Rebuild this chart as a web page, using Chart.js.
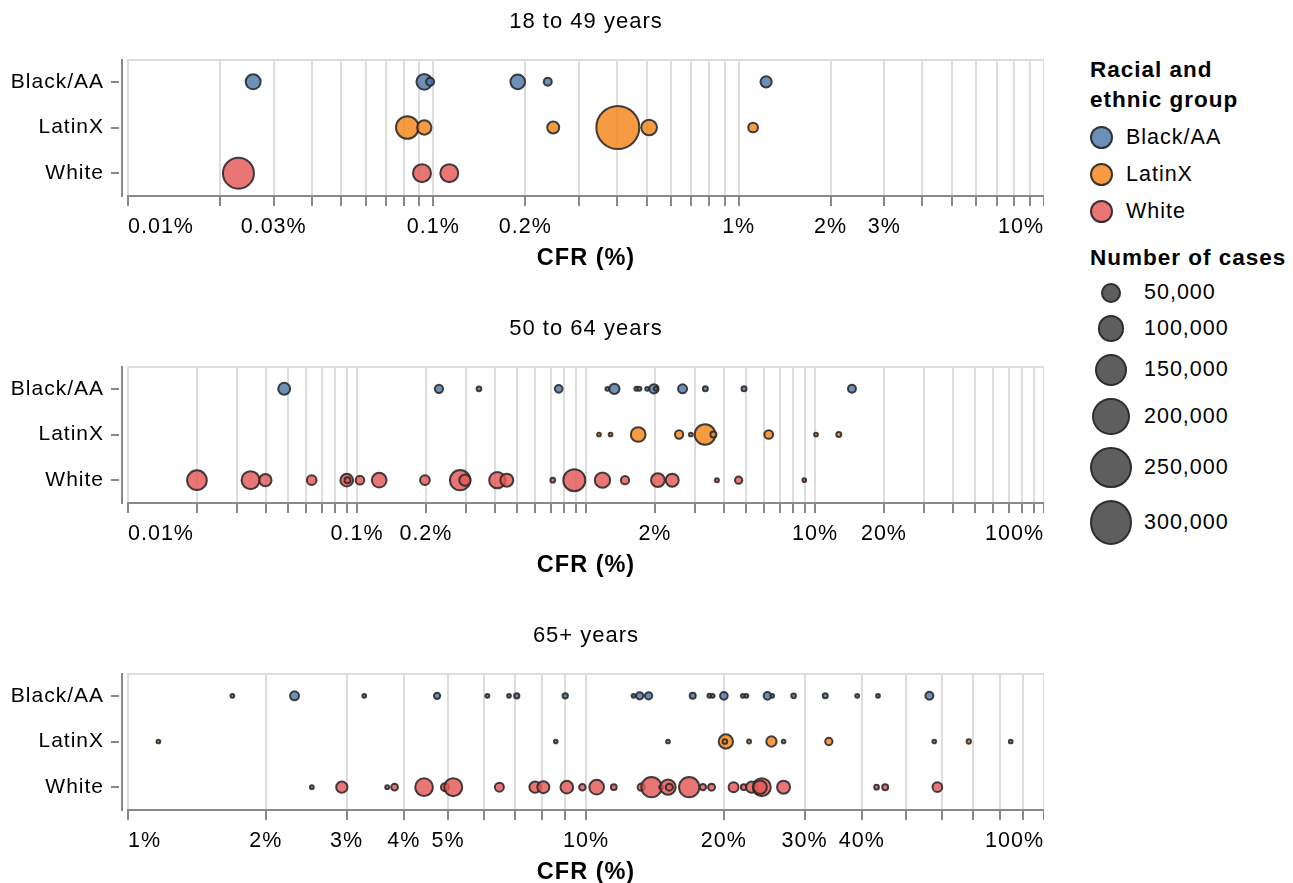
<!DOCTYPE html>
<html>
<head>
<meta charset="utf-8">
<script src="https://cdn.jsdelivr.net/npm/chart.js@4.4.1/dist/chart.umd.min.js"></script>
<style>
  html, body { margin: 0; padding: 0; background: #fff; }
  #wrap { position: relative; width: 1293px; height: 883px; overflow: hidden; font-family: "Liberation Sans", Arial, sans-serif; color: #000; }
  .panel { position: absolute; left: 0; }
  #legend { position: absolute; left: 1090px; top: 0; width: 203px; letter-spacing: 1px; }
  .ltitle { position: absolute; left: 0; font-weight: bold; font-size: 22.5px; line-height: 30px; white-space: nowrap; }
  .lrow { display: flex; align-items: center; white-space: nowrap; font-size: 21.5px; }
  .sym { display: flex; align-items: center; justify-content: center; flex: none; }
  .dot { box-sizing: border-box; border-radius: 50%; border: 2px solid rgba(40,40,40,0.9); }
</style>
</head>
<body>
<div id="wrap">
  <div class="panel" style="top:0px"><canvas id="c1" width="1044" height="307"></canvas></div>
  <div class="panel" style="top:307px"><canvas id="c2" width="1044" height="307"></canvas></div>
  <div class="panel" style="top:614px"><canvas id="c3" width="1044" height="307"></canvas></div>
  <div id="legend">
    <div class="ltitle" style="top:55px">Racial and<br>ethnic group</div>
    <div id="colorItems" style="position:absolute;left:0;top:125px;"></div>
    <div class="ltitle" style="top:243px">Number of cases</div>
    <div id="sizeItems" style="position:absolute;left:0;top:283px;"></div>
  </div>
</div>
<script>
// ---------- categories / labels ----------
const groups = ['Black/AA', 'LatinX', 'White'];
const groupColors = ['rgba(76,120,168,0.82)', 'rgba(245,133,24,0.82)', 'rgba(228,87,86,0.82)'];
const panelTitles = ['18 to 49 years', '50 to 64 years', '65+ years'];
const axisTitle = 'CFR (%)';
const xMins = [0.01, 0.01, 1];
const xMaxs = [10, 100, 100];
const tickLabels1 = ['0.01%', '0.03%', '0.1%', '0.2%', '1%', '2%', '3%', '10%'];
const tickLabels2 = ['0.01%', '0.1%', '0.2%', '2%', '10%', '20%', '100%'];
const tickLabels3 = ['1%', '2%', '3%', '4%', '5%', '10%', '20%', '30%', '40%', '100%'];
const sizeLegendValues = [50000, 100000, 150000, 200000, 250000, 300000];
const sizeLegendLabels = ['50,000', '100,000', '150,000', '200,000', '250,000', '300,000'];

// ---------- panel 1: 18 to 49 years ----------
const p1BlackCfr   = [0.0257, 0.0934, 0.0976, 0.189, 0.237, 1.23];
const p1BlackCases = [35000, 38400, 8500, 33500, 8500, 19000];
const p1LatinCfr   = [0.0822, 0.0934, 0.247, 0.402, 0.509, 1.115];
const p1LatinCases = [82500, 31600, 21600, 301000, 38400, 13500];
const p1WhiteCfr   = [0.0230, 0.0918, 0.1128];
const p1WhiteCases = [155600, 51100, 51100];

// ---------- panel 2: 50 to 64 years ----------
const p2BlackCfr   = [0.0481, 0.228, 0.341, 0.760, 1.24, 1.33, 1.66, 1.71, 1.85, 1.98, 2.02, 2.64, 3.32, 4.90, 14.5];
const p2BlackCases = [21600, 9300, 1650, 7750, 500, 15400, 650, 650, 500, 12200, 650, 11300, 2130, 2130, 8500];
const p2LatinCfr   = [1.14, 1.28, 1.69, 2.55, 2.87, 3.31, 3.60, 6.28, 10.1, 12.7];
const p2LatinCases = [300, 300, 33500, 9300, 300, 68300, 3930, 10400, 300, 2130];
const p2WhiteCfr   = [0.0200, 0.0343, 0.0398, 0.0634, 0.0902, 0.0909, 0.103, 0.125, 0.198, 0.282, 0.296, 0.410, 0.451, 0.716, 0.889, 1.18, 1.48, 2.06, 2.38, 3.73, 4.64, 8.98];
const p2WhiteCases = [61600, 51100, 22800, 13500, 24500, 3930, 10400, 33500, 13500, 65600, 19000, 41600, 25700, 1650, 77400, 36400, 9300, 28800, 25700, 600, 6770, 200];

// ---------- panel 3: 65+ years ----------
const p3BlackCfr   = [1.69, 2.31, 3.28, 4.73, 6.09, 6.79, 7.06, 9.01, 12.7, 13.1, 13.7, 17.1, 18.6, 18.9, 20.0, 22.0, 22.4, 24.9, 25.5, 28.4, 33.3, 39.1, 43.4, 56.2];
const p3BlackCases = [300, 11300, 250, 4540, 500, 300, 2640, 2640, 300, 6770, 6770, 3930, 650, 500, 7750, 300, 300, 7750, 300, 1650, 2130, 500, 350, 8500];
const p3LatinCfr   = [1.165, 8.59, 15.1, 20.2, 20.1, 22.7, 25.4, 27.0, 33.9, 57.6, 68.5, 84.6];
const p3LatinCases = [300, 200, 300, 31600, 1650, 500, 15400, 200, 6770, 200, 1070, 300];
const p3WhiteCfr   = [2.52, 2.93, 3.68, 3.82, 4.43, 4.92, 5.13, 6.47, 7.74, 8.07, 9.08, 9.82, 10.55, 11.5, 13.2, 13.9, 14.6, 15.1, 15.2, 16.8, 18.0, 18.8, 21.0, 22.1, 23.0, 24.2, 24.0, 27.0, 43.1, 45.0, 58.5];
const p3WhiteCases = [350, 19000, 400, 5390, 49400, 8500, 51100, 11300, 19000, 21600, 24500, 5000, 33500, 3360, 6770, 65600, 500, 36400, 6070, 65600, 4540, 6070, 14400, 3360, 19000, 51100, 28000, 25700, 1650, 3930, 13500];

// ---------- helpers ----------
const FONT = '"Liberation Sans", Arial, sans-serif';
const STROKE = 'rgba(40,40,40,0.88)';
// size scale: circle area grows linearly with number of cases
function sizeToRadius(cases) { return Math.sqrt(12 + 0.0061 * cases) / 2; }

function buildLogTicks(min, max) {
  const out = [];
  for (let e = Math.floor(Math.log10(min)); e <= Math.ceil(Math.log10(max)); e++) {
    for (let m = 1; m <= 9; m++) {
      const v = parseFloat((m * Math.pow(10, e)).toPrecision(6));
      if (v >= min * 0.9999 && v <= max * 1.0001) out.push({ value: v });
    }
  }
  return out;
}
function fmtPct(v) { return parseFloat(Number(v).toPrecision(6)) + '%'; }

const spacingPlugin = {
  id: 'spacing',
  beforeUpdate(chart) { chart.ctx.letterSpacing = '1px'; },
  beforeLayout(chart) { chart.ctx.letterSpacing = '1px'; },
  beforeDraw(chart) { chart.ctx.letterSpacing = '1px'; }
};

const framePlugin = {
  id: 'frame',
  beforeDatasetsDraw(chart) {
    const { ctx, chartArea: a, scales } = chart;
    const y = scales.y;
    ctx.save();
    ctx.lineWidth = 2;
    ctx.strokeStyle = '#ddd';
    ctx.beginPath(); ctx.moveTo(a.left, a.top + 1); ctx.lineTo(a.right, a.top + 1); ctx.stroke();
    ctx.strokeStyle = '#888';
    const ax = a.left - 6;
    ctx.beginPath(); ctx.moveTo(ax, a.top); ctx.lineTo(ax, a.bottom + 1); ctx.stroke();
    y.ticks.forEach((t, i) => {
      const py = Math.round(y.getPixelForTick(i));
      ctx.beginPath(); ctx.moveTo(ax - 11, py); ctx.lineTo(ax - 3, py); ctx.stroke();
    });
    ctx.restore();
  }
};

function makeChart(canvasId, idx, series, labels) {
  const min = xMins[idx], max = xMaxs[idx];
  return new Chart(document.getElementById(canvasId), {
    type: 'scatter',
    data: {
      datasets: groups.map((g, i) => ({
        label: g,
        data: series[i].cfr.map((c, j) => ({ x: c, y: g, cases: series[i].cases[j] })),
        backgroundColor: groupColors[i],
        borderColor: STROKE,
        borderWidth: 2,
        pointRadius: (ctx) => sizeToRadius(ctx.raw ? ctx.raw.cases : 0),
        pointHoverRadius: (ctx) => sizeToRadius(ctx.raw ? ctx.raw.cases : 0)
      }))
    },
    options: {
      responsive: false,
      animation: false,
      devicePixelRatio: 1,
      events: [],
      layout: { autoPadding: false, padding: { left: 0, right: 0, top: 0, bottom: 31 } },
      plugins: {
        legend: { display: false },
        tooltip: { enabled: false },
        title: {
          display: true, text: panelTitles[idx], fullSize: false, color: '#000',
          font: { family: FONT, size: 22, weight: 'normal' },
          padding: { top: 9, bottom: 23.6 }
        }
      },
      scales: {
        x: {
          type: 'logarithmic', min: min, max: max,
          afterBuildTicks: (s) => { s.ticks = buildLogTicks(min, max); },
          afterFit: (s) => { s.height = 80; s.paddingLeft = 0; s.paddingRight = 0; },
          grid: { color: '#ddd', lineWidth: 2, tickColor: '#888', tickWidth: 2, tickLength: 10, drawTicks: true },
          border: { display: true, color: '#888', width: 2 },
          ticks: {
            autoSkip: false, maxRotation: 0, minRotation: 0, align: 'inner', padding: 8, color: '#000',
            font: { family: FONT, size: 21.5 },
            callback: (v) => labels.includes(fmtPct(v)) ? fmtPct(v) : ''
          },
          title: {
            display: true, text: axisTitle, color: '#000',
            font: { family: FONT, size: 23.5, weight: 'bold' },
            padding: { top: 0, bottom: 3 }
          }
        },
        y: {
          type: 'category', labels: groups, offset: true,
          afterFit: (s) => { s.width = 128; },
          grid: { display: false, drawTicks: false },
          border: { display: false },
          ticks: { color: '#000', font: { family: FONT, size: 21 }, padding: 24 }
        }
      }
    },
    plugins: [spacingPlugin, framePlugin]
  });
}

makeChart('c1', 0, [
  { cfr: p1BlackCfr, cases: p1BlackCases },
  { cfr: p1LatinCfr, cases: p1LatinCases },
  { cfr: p1WhiteCfr, cases: p1WhiteCases }
], tickLabels1);
makeChart('c2', 1, [
  { cfr: p2BlackCfr, cases: p2BlackCases },
  { cfr: p2LatinCfr, cases: p2LatinCases },
  { cfr: p2WhiteCfr, cases: p2WhiteCases }
], tickLabels2);
makeChart('c3', 2, [
  { cfr: p3BlackCfr, cases: p3BlackCases },
  { cfr: p3LatinCfr, cases: p3LatinCases },
  { cfr: p3WhiteCfr, cases: p3WhiteCases }
], tickLabels3);

// ---------- legend ----------
const colorItems = document.getElementById('colorItems');
groups.forEach((g, i) => {
  const row = document.createElement('div');
  row.className = 'lrow';
  row.style.height = '25px';
  row.style.marginBottom = '12px';
  row.innerHTML = '<div class="sym" style="width:23px;margin-right:13px"><div class="dot" style="width:23px;height:23px;background:' + groupColors[i] + '"></div></div><span>' + g + '</span>';
  colorItems.appendChild(row);
});
const sizeItems = document.getElementById('sizeItems');
sizeLegendValues.forEach((v, i) => {
  const d = sizeToRadius(v) * 2 + 2;
  const row = document.createElement('div');
  row.className = 'lrow';
  row.style.height = d.toFixed(1) + 'px';
  row.style.marginBottom = '12px';
  row.innerHTML = '<div class="sym" style="width:42px;margin-right:12px"><div class="dot" style="width:' + d.toFixed(1) + 'px;height:' + d.toFixed(1) + 'px;background:rgba(80,80,80,0.92)"></div></div><span>' + sizeLegendLabels[i] + '</span>';
  sizeItems.appendChild(row);
});
</script>
</body>
</html>
